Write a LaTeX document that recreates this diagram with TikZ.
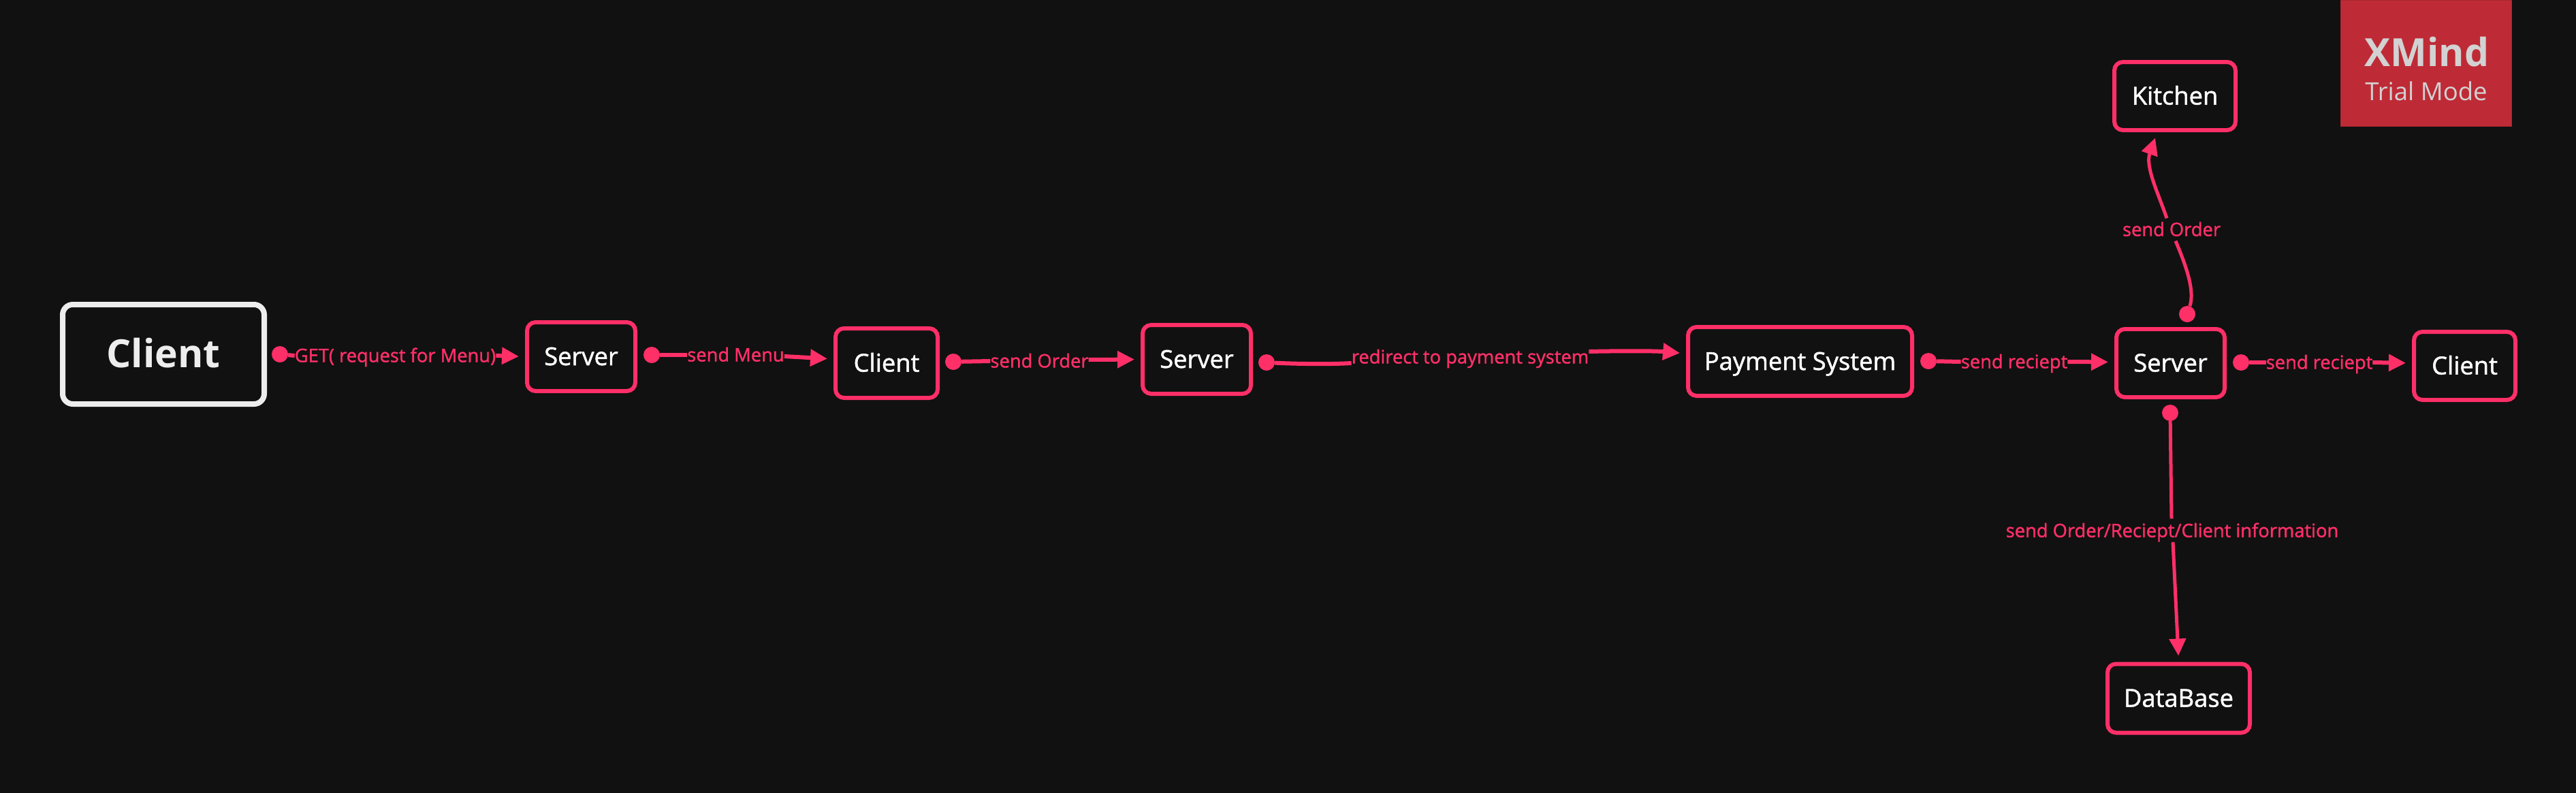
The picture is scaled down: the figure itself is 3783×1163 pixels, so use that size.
\documentclass[tikz,border=0pt]{standalone}
\usepackage{fontspec}
\setmainfont{Open Sans}
\newfontfamily\midfont[FakeBold=1.4]{Open Sans}
\usetikzlibrary{arrows.meta}
\definecolor{bgc}{HTML}{111111}
\definecolor{pinkc}{HTML}{FF2F68}
\definecolor{redc}{HTML}{BE2B36}
\definecolor{redd}{HTML}{A8262F}
\definecolor{greyc}{HTML}{D2D2D2}
\tikzset{
  boxn/.style={draw=pinkc,fill=bgc,line width=6pt,rounded corners=12.5pt,inner sep=0pt,text=white,
    font=\midfont\fontsize{36.3}{40}\selectfont,text height=25pt,text depth=0pt},
  rootn/.style={draw=white!93!black,fill=bgc,line width=8pt,rounded corners=15pt,inner sep=0pt,text=white!93!black,
    font=\bfseries\fontsize{57}{66}\selectfont,text height=42pt,text depth=0pt},
  dotn/.style={circle,fill=pinkc,inner sep=0pt,minimum size=24pt},
  lbl/.style={inner sep=0pt,text=pinkc,font=\midfont\fontsize{27.3}{30}\selectfont,text height=19pt,text depth=0pt},
  plain/.style={draw=pinkc,line width=6pt},
  tipped/.style={plain,-{Triangle[length=25pt,width=24pt]},shorten >=9pt},
  thinplain/.style={plain,line width=5pt},
  thintipped/.style={tipped,line width=5pt},
  badge/.style={fill=redc,draw=redd,line width=1pt,inner sep=0pt,minimum width=251pt,minimum height=185pt},
  badgetxt/.style={inner sep=0pt,text=greyc,text depth=0pt}
}
\begin{document}
\begin{tikzpicture}[x=1pt,y=-1pt]
\useasboundingbox (0,0) rectangle (3783,1163);
\fill[bgc] (-3,-3) rectangle (3786,1166);
% badge
\node[badge] (xbadge) at (3562.5,92.5) {};
\node[badgetxt,font=\bfseries\fontsize{57}{66}\selectfont,text height=40pt] (xmind) at (3564,77.5) {XMind};
\node[badgetxt,font=\fontsize{36.5}{42}\selectfont,text height=26pt] (trial) at (3563,134) {Trial Mode};
% boxes
\node[rootn,minimum width=296pt,minimum height=146pt] (client0) at (240,520) {\raisebox{2pt}{Client}\hspace{3pt}};
\node[boxn,minimum width=159pt,minimum height=101pt] (server1) at (853.5,523.5) {Server};
\node[boxn,minimum width=150pt,minimum height=102pt] (client2) at (1302,533) {Client};
\node[boxn,minimum width=159pt,minimum height=101pt] (server2) at (1757.5,527.5) {Server};
\node[boxn,minimum width=329pt,minimum height=101pt] (payment) at (2643.5,530.5) {Payment System};
\node[boxn,minimum width=159pt,minimum height=100pt] (server3) at (3187.5,533) {Server};
\node[boxn,minimum width=149pt,minimum height=100pt] (client3) at (3619.5,537) {Client};
\node[boxn,minimum width=178pt,minimum height=100pt] (kitchen) at (3194,141) {Kitchen};
\node[boxn,minimum width=209pt,minimum height=101pt] (database) at (3199.5,1025) {DataBase};
% dots
\node[dotn] (d1) at (411,520) {};
\node[dotn] (d2) at (957,521) {};
\node[dotn] (d3) at (1400,531) {};
\node[dotn] (d4) at (1860,532) {};
\node[dotn] (d5) at (2832,530) {};
\node[dotn] (d6) at (3291,532) {};
\node[dotn] (d7) at (3212,461) {};
\node[dotn] (d8) at (3187,606) {};
% labels
\node[lbl] (l1) at (580.5,522) {GET( request for Menu)};
\node[lbl] (l2) at (1080.5,521) {send Menu};
\node[lbl] (l3) at (1526.5,530) {send Order};
\node[lbl] (l4) at (2159,524) {redirect to payment system};
\node[lbl] (l5) at (2958,531) {send reciept};
\node[lbl] (l6) at (3406,532) {send reciept};
\node[lbl] (l7) at (3189,337) {send Order};
\node[lbl] (l8) at (3190,779) {send Order/Reciept/Client information};
% connectors
\draw[plain] (d1) -- (l1.west);
\draw[tipped] (l1.east) -- (server1.west);
\draw[plain] (d2) -- (l2.west);
\draw[tipped] ([shift={(0,2)}]l2.east) -- ([shift={(0,-6)}]client2.west);
\draw[plain] (d3) -- (l3.west);
\draw[tipped] ([shift={(0,-2)}]l3.east) -- (server2.west);
\draw[plain] (d4) .. controls (1900,534) and (1950,535) .. ([shift={(0,9)}]l4.west);
\draw[tipped] ([shift={(0,-8)}]l4.east) .. controls (2380,515) and (2430,515) .. ([shift={(0,-11.5)}]payment.west);
\draw[plain] (d5) -- (l5.west);
\draw[tipped] (l5.east) -- ([shift={(0,-1.5)}]server3.west);
\draw[plain] (d6) -- (l6.west);
\draw[tipped] (l6.east) -- ([shift={(0,-4)}]client3.west);
\draw[thinplain] (d7) .. controls (3224,425) and (3208,385) .. ([shift={(6,7)}]l7.south);
\draw[thintipped] ([shift={(-7,-7)}]l7.north) .. controls (3170,285) and (3150,245) .. ([shift={(-26,0)}]kitchen.south);
\draw[thinplain] (d8) -- ([shift={(-1,-8)}]l8.north);
\draw[thintipped] ([shift={(1,7)}]l8.south) -- (database.north);
\end{tikzpicture}
\end{document}
